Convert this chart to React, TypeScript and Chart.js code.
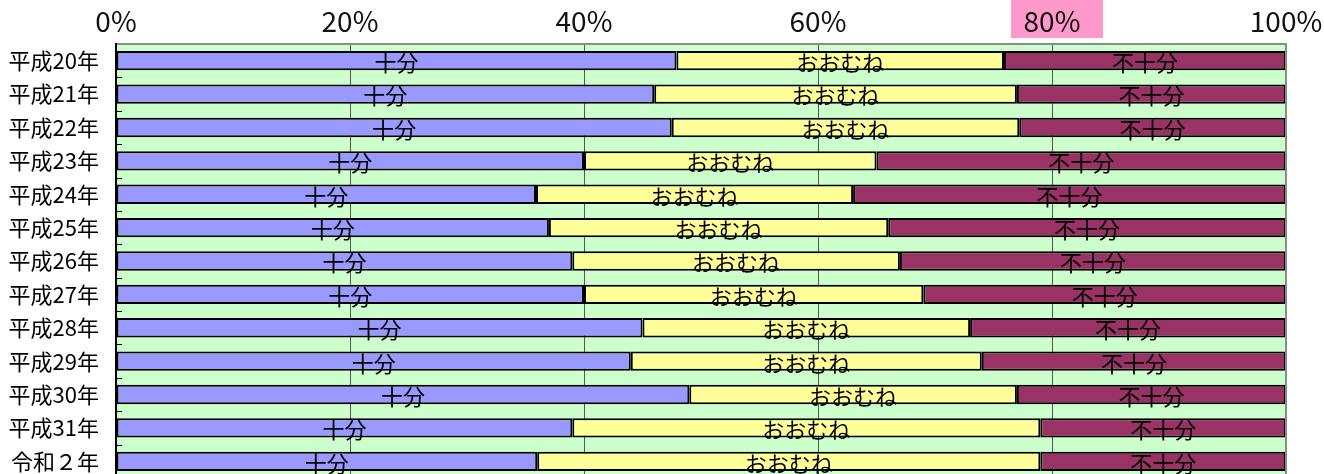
import React, { useEffect, useRef } from 'react';
import { Chart, registerables } from 'chart.js';

Chart.register(...registerables);

const categories = ['平成20年', '平成21年', '平成22年', '平成23年', '平成24年', '平成25年', '平成26年', '平成27年', '平成28年', '平成29年', '平成30年', '平成31年', '令和２年'];
const seriesNames = ['十分', 'おおむね', '不十分'];
const juubun = [47.9, 46.0, 47.5, 40.0, 35.9, 37.0, 39.0, 40.0, 45.0, 44.0, 49.0, 39.0, 36.0];
const oomune = [28.0, 31.0, 29.7, 25.0, 27.1, 29.0, 28.0, 29.0, 28.0, 30.0, 28.0, 40.0, 43.0];
const fujuubun = [24.1, 23.0, 22.8, 35.0, 37.0, 34.0, 33.0, 31.0, 27.0, 26.0, 23.0, 21.0, 21.0];
const tickValues = [0, 20, 40, 60, 80, 100];
const highlightTick = 80;

const FONT = "'Noto Sans CJK JP', 'Noto Sans', sans-serif";

const backgroundPlugin = {
  id: 'bgPlugin',
  beforeDraw(chart: any) {
    const { ctx, chartArea, scales } = chart;
    ctx.save();
    ctx.fillStyle = '#CCFFCC';
    ctx.fillRect(chartArea.left, chartArea.top, chartArea.right - chartArea.left, chartArea.bottom - chartArea.top);
    const px = scales.x.getPixelForValue(highlightTick);
    ctx.fillStyle = '#FF99CC';
    ctx.fillRect(px - 41, 0, 92, 38);
    ctx.restore();
  },
  afterDraw(chart: any) {
    const { ctx, chartArea, scales } = chart;
    ctx.save();
    ctx.strokeStyle = '#8a8a8a';
    ctx.lineWidth = 2;
    ctx.beginPath();
    ctx.moveTo(chartArea.right, chartArea.top);
    ctx.lineTo(chartArea.right, chartArea.bottom);
    ctx.stroke();
    ctx.strokeStyle = '#000';
    ctx.lineWidth = 1;
    const n = categories.length;
    for (let i = 1; i < n; i++) {
      const y = (scales.y.getPixelForValue(i - 1) + scales.y.getPixelForValue(i)) / 2;
      ctx.beginPath();
      ctx.moveTo(chartArea.left, Math.round(y) + 0.5);
      ctx.lineTo(chartArea.left + 6, Math.round(y) + 0.5);
      ctx.stroke();
    }
    ctx.restore();
  },
};

const labelPlugin = {
  id: 'barLabels',
  afterDatasetsDraw(chart: any) {
    const { ctx } = chart;
    ctx.save();
    ctx.font = `22px ${FONT}`;
    ctx.fillStyle = '#000';
    ctx.textAlign = 'center';
    ctx.textBaseline = 'middle';
    chart.data.datasets.forEach((ds: any, di: number) => {
      const meta = chart.getDatasetMeta(di);
      meta.data.forEach((el: any) => {
        const cx = (el.x + el.base) / 2;
        ctx.fillText(ds.label, cx, el.y + 2);
      });
    });
    ctx.restore();
  },
};

export default function App() {
  const ref = useRef<HTMLCanvasElement>(null);
  useEffect(() => {
    if (!ref.current) return;
    const chart = new Chart(ref.current, {
      type: 'bar',
      data: {
        labels: categories,
        datasets: [
          { label: seriesNames[0], data: juubun, backgroundColor: '#9999FF' },
          { label: seriesNames[1], data: oomune, backgroundColor: '#FFFF99' },
          { label: seriesNames[2], data: fujuubun, backgroundColor: '#993366' },
        ].map((d) => ({
          ...d,
          borderColor: '#000',
          borderWidth: 2,
          borderSkipped: false,
          barPercentage: 0.58,
          categoryPercentage: 1,
        })),
      },
      options: {
        indexAxis: 'y',
        animation: false,
        responsive: false,
        maintainAspectRatio: false,
        layout: { padding: { left: 0, right: 38, top: 0, bottom: 2 } },
        plugins: { legend: { display: false }, tooltip: { enabled: false } },
        scales: {
          x: {
            position: 'top',
            stacked: true,
            min: 0,
            max: 100,
            afterBuildTicks(scale: any) {
              scale.ticks = tickValues.map((v) => ({ value: v }));
            },
            afterFit(scale: any) {
              scale.height = 44;
              scale.paddingLeft = 0;
              scale.paddingRight = 0;
            },
            ticks: {
              callback: (v: any) => v + '%',
              font: { family: FONT, size: 28 },
              color: '#111',
              padding: 6,
              maxRotation: 0,
            },
            grid: {
              drawTicks: false,
              color: (c: any) => (c.tick && (c.tick.value === 0 || c.tick.value === 100) ? 'rgba(0,0,0,0)' : '#555'),
              lineWidth: 1,
            },
            border: { display: true, color: '#8a8a8a', width: 2 },
          },
          y: {
            stacked: true,
            afterFit(scale: any) {
              scale.width = 116;
              scale.paddingTop = 0;
              scale.paddingBottom = 0;
            },
            ticks: {
              font: { family: FONT, size: 22 },
              color: '#000',
              padding: 17,
            },
            grid: { display: false, drawTicks: false },
            border: { display: true, color: '#000', width: 2 },
          },
        },
      },
      plugins: [backgroundPlugin, labelPlugin],
    } as any);
    return () => chart.destroy();
  }, []);
  return (
    <div style={{ position: 'fixed', left: 0, top: 0, width: 1324, height: 480, background: '#fff' }}>
      <canvas ref={ref} width={1324} height={480} style={{ width: 1324, height: 480 }} />
    </div>
  );
}
